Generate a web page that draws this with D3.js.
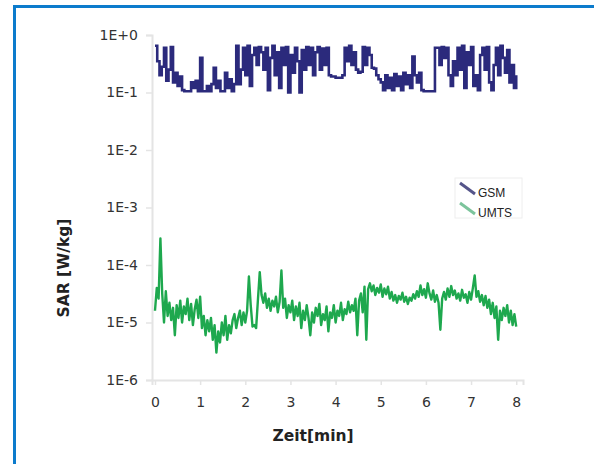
<!DOCTYPE html>
<html><head><meta charset="utf-8">
<script src="https://cdn.jsdelivr.net/npm/d3@7"></script>
<style>html,body{margin:0;padding:0;background:#fff;}svg{display:block;}</style>
</head><body>
<svg id="c" width="594" height="464"></svg>
<script>
// ---- data ----
const yTicks = [1e0, 1e-1, 1e-2, 1e-3, 1e-4, 1e-5, 1e-6];
const yTickLabels = ["1E+0", "1E-1", "1E-2", "1E-3", "1E-4", "1E-5", "1E-6"];
const xTicks = [0, 1, 2, 3, 4, 5, 6, 7, 8];
const seriesNames = ["GSM", "UMTS"];
const gsmStep = 0.05;   // min
const umtsStep = 0.04;  // min
const gsmValues = [
0.65,0.35,0.2,0.28,0.6,0.16,0.25,0.62,0.15,0.22,
0.13,0.19,0.11,0.105,0.105,0.105,0.15,0.12,0.16,0.105,
0.4,0.105,0.105,0.13,0.105,0.14,0.27,0.12,0.16,0.105,
0.105,0.22,0.12,0.17,0.105,0.14,0.65,0.14,0.25,0.6,
0.2,0.65,0.13,0.45,0.6,0.3,0.62,0.5,0.25,0.6,
0.11,0.4,0.65,0.2,0.5,0.12,0.6,0.3,0.62,0.1,
0.45,0.22,0.6,0.35,0.1,0.55,0.25,0.62,0.3,0.6,
0.2,0.5,0.62,0.25,0.58,0.3,0.6,0.2,0.19,0.19,
0.18,0.18,0.18,0.2,0.6,0.35,0.65,0.3,0.5,0.25,
0.22,0.23,0.62,0.3,0.6,0.45,0.27,0.26,0.2,0.17,
0.15,0.11,0.2,0.12,0.18,0.11,0.21,0.13,0.19,0.11,
0.22,0.14,0.2,0.12,0.42,0.2,0.15,0.22,0.11,0.105,
0.105,0.105,0.105,0.105,0.6,0.6,0.3,0.62,0.4,0.6,
0.2,0.13,0.35,0.2,0.6,0.25,0.65,0.12,0.5,0.3,
0.62,0.13,0.2,0.11,0.45,0.6,0.25,0.62,0.15,0.11,
0.3,0.6,0.2,0.65,0.4,0.22,0.55,0.15,0.3,0.12,
0.2
];
const umtsValues = [
1.6e-5,4.0e-5,2.6e-5,2.9e-4,3.2e-5,1.0e-5,3.5e-5,1.3e-5,2.2e-5,1.1e-5,
1.8e-5,6.0e-6,2.0e-5,1.2e-5,2.4e-5,1.0e-5,1.9e-5,1.4e-5,2.6e-5,1.1e-5,
2.1e-5,9.0e-6,1.7e-5,2.5e-5,1.2e-5,2.8e-5,8.0e-6,1.3e-5,6.0e-6,1.1e-5,
7.0e-6,1.2e-5,5.0e-6,9.0e-6,3.0e-6,7.0e-6,4.5e-6,1.0e-5,6.0e-6,1.3e-5,
5.0e-6,9.0e-6,6.5e-6,1.1e-5,1.4e-5,8.0e-6,1.2e-5,1.6e-5,9.0e-6,1.5e-5,
1.0e-5,1.6e-5,6.3e-5,2.0e-5,8.5e-6,9.0e-6,8.0e-6,2.5e-5,7.5e-5,3.0e-5,
2.2e-5,3.2e-5,1.8e-5,2.6e-5,1.6e-5,2.4e-5,1.9e-5,2.8e-5,1.5e-5,2.3e-5,
8.0e-5,1.8e-5,2.6e-5,1.2e-5,2.0e-5,1.5e-5,2.4e-5,1.1e-5,1.9e-5,1.3e-5,
2.2e-5,8.0e-6,1.6e-5,1.1e-5,2.0e-5,1.2e-5,6.0e-6,1.5e-5,1.0e-5,1.8e-5,
1.3e-5,2.1e-5,9.0e-6,1.4e-5,1.1e-5,1.9e-5,7.0e-6,1.5e-5,1.2e-5,2.0e-5,
1.0e-5,1.6e-5,1.3e-5,2.2e-5,1.1e-5,1.7e-5,1.4e-5,2.3e-5,1.5e-5,2.0e-5,
1.6e-5,2.6e-5,6.0e-6,2.4e-5,3.2e-5,1.5e-5,4.2e-5,5.0e-6,3.8e-5,4.8e-5,
3.5e-5,4.4e-5,3.0e-5,4.0e-5,3.3e-5,4.6e-5,2.8e-5,3.9e-5,3.1e-5,4.2e-5,
2.6e-5,3.4e-5,2.4e-5,3.0e-5,2.2e-5,2.9e-5,2.5e-5,3.3e-5,2.3e-5,2.8e-5,
2.1e-5,2.7e-5,2.4e-5,3.1e-5,2.6e-5,3.5e-5,2.8e-5,4.4e-5,3.0e-5,3.8e-5,
2.7e-5,4.8e-5,3.2e-5,2.5e-5,3.6e-5,2.3e-5,3.0e-5,2.2e-5,7.5e-6,2.6e-5,
3.4e-5,2.5e-5,3.9e-5,2.8e-5,4.3e-5,3.0e-5,3.6e-5,2.6e-5,3.2e-5,2.4e-5,
3.7e-5,2.7e-5,3.1e-5,2.2e-5,3.4e-5,2.5e-5,4.0e-5,6.6e-5,2.8e-5,3.5e-5,
2.3e-5,3.0e-5,2.0e-5,2.9e-5,1.8e-5,2.5e-5,1.4e-5,2.2e-5,1.2e-5,1.9e-5,
5.0e-6,1.6e-5,1.1e-5,1.8e-5,1.3e-5,2.0e-5,1.0e-5,1.6e-5,9.0e-6,1.4e-5,
8.5e-6
];
const colors = {GSM: "#2b2a7c", UMTS: "#1ea84e"};

// ---- drawing ----
const svg = d3.select("#c");
const x = d3.scaleLinear().domain([-0.066, 8.15]).range([152, 523]);
const y = d3.scaleLog().domain([1e-6, 1e0]).range([380, 35]);

// frame
svg.append("path")
  .attr("d", "M14.5,470 L14.5,6.5 L600,6.5")
  .attr("fill", "none").attr("stroke", "#0c7bcc").attr("stroke-width", 3);

// axes
const yAxis = d3.axisLeft(y).tickValues(yTicks)
  .tickFormat((d, i) => yTickLabels[i]).tickSize(6).tickPadding(8);
const gy = svg.append("g").attr("transform", "translate(152,0)").call(yAxis);
const xAxis = d3.axisBottom(x).tickValues(xTicks).tickFormat(d3.format("d"))
  .tickSize(5).tickPadding(12);
const gx = svg.append("g").attr("transform", "translate(0,380)").call(xAxis);
[gx, gy].forEach(g => {
  g.select(".domain").attr("stroke", "#e4e4e4").attr("stroke-width", 2);
  g.selectAll(".tick line").attr("stroke", "#e4e4e4").attr("stroke-width", 1.5);
  g.selectAll(".tick text").attr("fill", "#333")
    .style("font-family", "DejaVu Sans").style("font-size", "14px");
});

// series
const gsmData = gsmValues.map((v, i) => ({t: i * gsmStep, v}));
const umtsData = umtsValues.map((v, i) => ({t: i * umtsStep, v}));
svg.append("path").datum(umtsData)
  .attr("d", d3.line().x(d => x(d.t)).y(d => y(d.v)).curve(d3.curveLinear))
  .attr("fill", "none").attr("stroke", colors.UMTS).attr("stroke-width", 2.4)
  .attr("stroke-linejoin", "round");
svg.append("path").datum(gsmData)
  .attr("d", d3.line().x(d => x(d.t)).y(d => y(d.v)).curve(d3.curveStepAfter))
  .attr("fill", "none").attr("stroke", colors.GSM).attr("stroke-width", 2.6);

// axis titles
svg.append("text").attr("x", 313).attr("y", 441).attr("text-anchor", "middle")
  .style("font-family", "DejaVu Sans").style("font-weight", "bold").style("font-size", "15.5px")
  .attr("fill", "#222").text("Zeit[min]");
svg.append("text").attr("transform", "translate(69,268) rotate(-90)").attr("text-anchor", "middle")
  .style("font-family", "DejaVu Sans").style("font-weight", "bold").style("font-size", "15.5px")
  .attr("fill", "#222").text("SAR [W/kg]");

// legend
const lg = svg.append("g");
lg.append("rect").attr("x", 455).attr("y", 178).attr("width", 67).attr("height", 40)
  .attr("fill", "#fff").attr("stroke", "#eeeeee").attr("stroke-width", 1);
const legColors = {GSM: "#55558a", UMTS: "#7cc49c"};
seriesNames.forEach((s, i) => {
  const yy = 183 + i * 20;
  lg.append("line").attr("x1", 460).attr("y1", yy).attr("x2", 475).attr("y2", yy + 11)
    .attr("stroke", legColors[s]).attr("stroke-width", 3);
  lg.append("text").attr("x", 478).attr("y", yy + 14)
    .style("font-family", "Liberation Sans").style("font-size", "12px")
    .attr("fill", "#222").text(s);
});
</script>
</body></html>
